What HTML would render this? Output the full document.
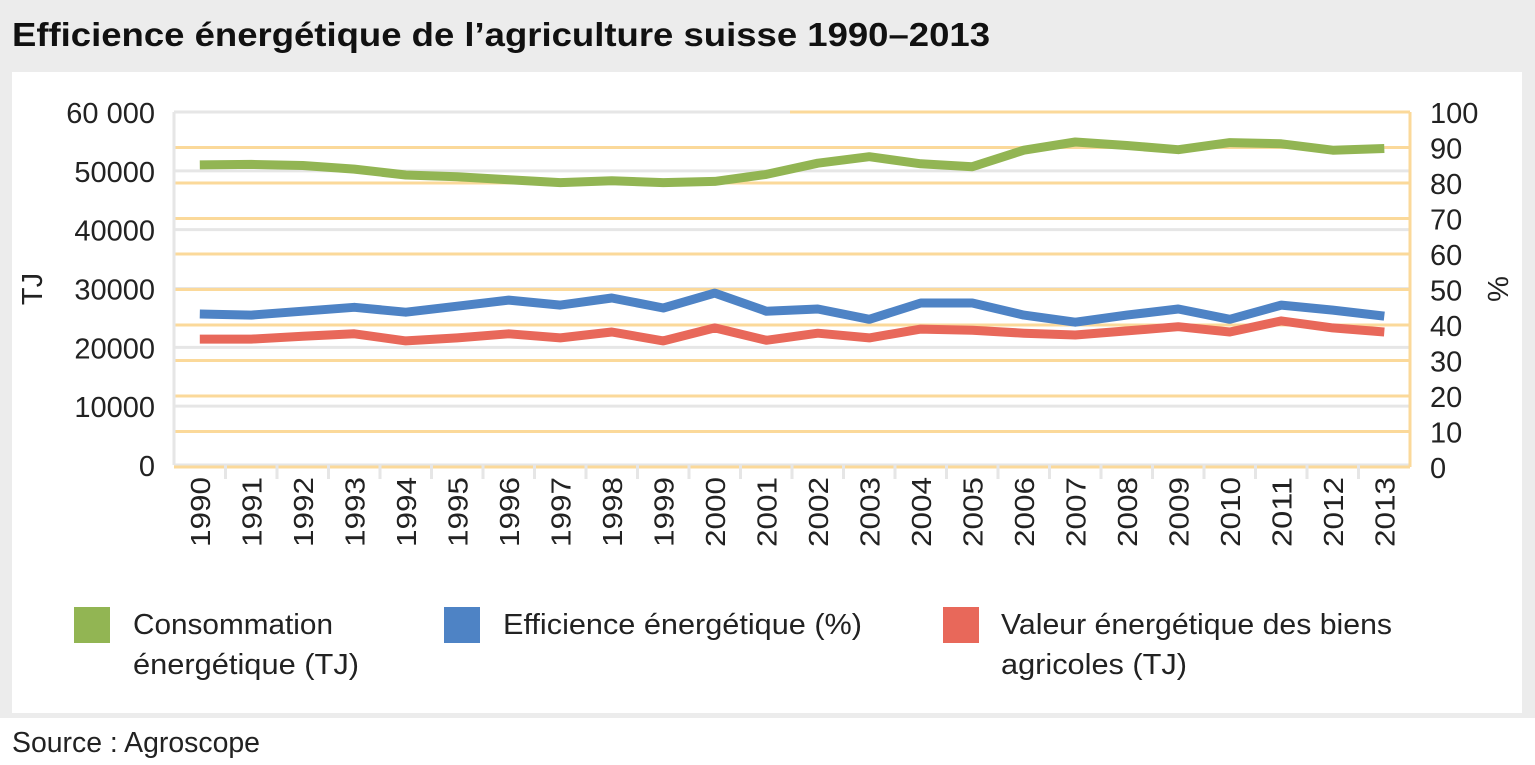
<!DOCTYPE html>
<html><head><meta charset="utf-8">
<style>
body{margin:0;width:1535px;height:760px;background:#fff;overflow:hidden;font-family:"Liberation Sans",sans-serif;}
</style></head>
<body>
<svg width="1535" height="760" xmlns="http://www.w3.org/2000/svg" style="font-family:'Liberation Sans',sans-serif">
<rect x="0" y="0" width="1535" height="718" fill="#ececec"/>
<text x="12" y="46" font-size="33" font-weight="bold" fill="#111" textLength="978" lengthAdjust="spacingAndGlyphs">Efficience énergétique de l’agriculture suisse 1990–2013</text>
<rect x="12" y="72" width="1510" height="641" fill="#fff"/>
<g id="grid"></g>
<g id="axes"></g>
<g id="series"></g>
<g id="legend" font-size="29" fill="#222">
<rect x="74" y="607" width="36" height="36" fill="#92b553"/>
<text x="133" y="634" textLength="200" lengthAdjust="spacingAndGlyphs">Consommation</text>
<text x="133" y="674" textLength="226" lengthAdjust="spacingAndGlyphs">énergétique (TJ)</text>
<rect x="444" y="607" width="36" height="36" fill="#4e83c5"/>
<text x="503" y="634" textLength="359" lengthAdjust="spacingAndGlyphs">Efficience énergétique (%)</text>
<rect x="943" y="607" width="36" height="36" fill="#e8685a"/>
<text x="1001" y="634" textLength="391" lengthAdjust="spacingAndGlyphs">Valeur énergétique des biens</text>
<text x="1001" y="674" textLength="186" lengthAdjust="spacingAndGlyphs">agricoles (TJ)</text>
</g>
<text x="12" y="752" font-size="29" fill="#222" textLength="248" lengthAdjust="spacingAndGlyphs">Source : Agroscope</text>
</svg>
<script>
const years=[1990,1991,1992,1993,1994,1995,1996,1997,1998,1999,2000,2001,2002,2003,2004,2005,2006,2007,2008,2009,2010,2011,2012,2013];
const consommation=[51000,51100,50900,50300,49300,49000,48500,48000,48300,48000,48200,49400,51300,52400,51200,50700,53500,54900,54300,53600,54800,54600,53500,53800];
const efficience=[43.1,42.8,43.9,45.0,43.6,45.3,47.0,45.6,47.6,44.8,49.0,43.9,44.5,41.6,46.2,46.2,42.8,40.8,42.8,44.5,41.6,45.6,44.2,42.5];
const valeur=[21400,21400,21900,22300,21100,21600,22300,21600,22600,21100,23300,21200,22400,21600,23100,22900,22400,22100,22800,23500,22600,24500,23300,22600];
const leftTicks=[0,10000,20000,30000,40000,50000,60000];
const leftLabels=["0","10000","20000","30000","40000","50000","60 000"];
const rightTicks=[0,10,20,30,40,50,60,70,80,90,100];

const NS="http://www.w3.org/2000/svg";
const L=174,R=1410,T=112,B=465;
const step=(R-L)/years.length;
function xS(i){return L+step*(i+0.5);}
function yL(v){return B-(v/60000)*(B-T);}
function yR(v){return B+2-(v/100)*(B+2-T);}
function mk(tag,attrs,parent){const e=document.createElementNS(NS,tag);for(const k in attrs)e.setAttribute(k,attrs[k]);parent.appendChild(e);return e;}
const grid=document.getElementById('grid'),axes=document.getElementById('axes'),ser=document.getElementById('series');

leftTicks.forEach((v,i)=>{
  const l=mk('line',{x1:L,x2:R,y1:yL(v),y2:yL(v),stroke:'#e6e6e6','stroke-width':3},grid);
  
  
  const t=mk('text',{x:155,y:yL(v)+11,'font-size':29,'text-anchor':'end',fill:'#222'},axes);
  t.textContent=leftLabels[i];
  
  
});
rightTicks.forEach(v=>{
  const x1=v===100?790:L;
  const l=mk('line',{x1:x1,x2:R,y1:yR(v),y2:yR(v),stroke:'#fbd99a','stroke-width':3},grid);
  
  
  const t=mk('text',{x:1430,y:yR(v)+11,'font-size':29,fill:'#222'},axes);
  t.textContent=String(v);
  
  
});
const la=mk('line',{x1:L,x2:L,y1:T,y2:B,stroke:'#e6e6e6','stroke-width':3},axes);


const ra=mk('line',{x1:R,x2:R,y1:T,y2:B+2,stroke:'#fbd99a','stroke-width':3},axes);


for(let i=1;i<years.length;i++){
  const x=L+step*i;
  const tk=mk('line',{x1:x,x2:x,y1:B,y2:B+14,stroke:'#e6e6e6','stroke-width':3},axes);
  
  
}
years.forEach((y,i)=>{
  const t=mk('text',{transform:`translate(${xS(i)+10},${B+12}) rotate(-90)`,'font-size':28,'text-anchor':'end',fill:'#222',textLength:70,lengthAdjust:'spacingAndGlyphs'},axes);
  t.textContent=String(y);
  
  
});
const ty=mk('text',{transform:'translate(42,289) rotate(-90)','font-size':29,'text-anchor':'middle',fill:'#222'},axes);
ty.textContent='TJ';


const tr=mk('text',{transform:'translate(1488,289) rotate(90)','font-size':29,'text-anchor':'middle',fill:'#222'},axes);
tr.textContent='%';



function line(vals,yf,color,name){
  const d=vals.map((v,i)=>(i?'L':'M')+xS(i).toFixed(1)+' '+yf(v).toFixed(1)).join(' ');
  const p=mk('path',{d:d,fill:'none',stroke:color,'stroke-width':9,'stroke-linejoin':'round'},ser);
  
  
}
line(consommation,yL,'#92b553','series-consommation');
line(valeur,yL,'#e8685a','series-valeur');
line(efficience,yR,'#4e83c5','series-efficience');
</script>
</body></html>
